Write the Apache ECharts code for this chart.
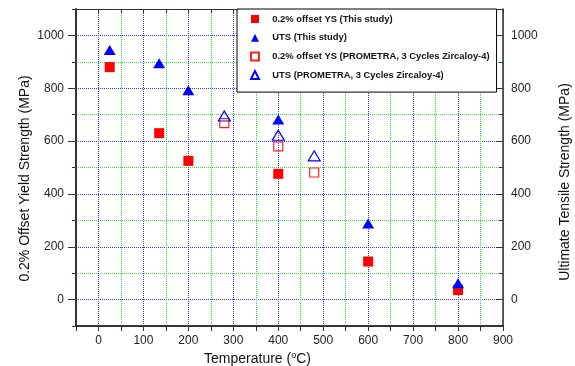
<!DOCTYPE html>
<html>
<head>
<meta charset="utf-8">
<script src="https://cdn.jsdelivr.net/npm/echarts@6/dist/echarts.min.js"></script>
<style>
html,body{margin:0;padding:0;background:#fff;}
#c{width:575px;height:366px;}
</style>
</head>
<body>
<div id="c"></div>
<script>
// Data (temperature in °C, strength in MPa)
const ysStudyT = [25, 135, 200, 400, 600, 800];
const ysStudyV = [880, 630, 525, 476, 144, 36];
const utsStudyT = [25, 135, 200, 400, 600, 800];
const utsStudyV = [945, 895, 792, 682, 288, 62];
const ysPromT = [280, 400, 480];
const ysPromV = [668, 580, 481];
const utsPromT = [280, 400, 480];
const utsPromV = [695, 622, 544];
const seriesNames = [
  '0.2% offset YS (This study)',
  'UTS (This study)',
  '0.2% offset YS (PROMETRA, 3 Cycles Zircaloy-4)',
  'UTS (PROMETRA, 3 Cycles Zircaloy-4)'
];
const yMajorTicks = [0, 200, 400, 600, 800, 1000];
const xTitle = 'Temperature';
const yLeftTitle = '0.2% Offset Yield Strength (MPa)';
const yRightTitle = 'Ultimate Tensile Strength (MPa)';

function pairs(xs, ys) { return xs.map((x, i) => [x, ys[i]]); }

const FONT = 'Liberation Sans, Arial, sans-serif';
const AXC = '#333';
const GREEN = '#2ee82e';
const BLUE = '#3535ff';

const chart = echarts.init(document.getElementById('c'), null, { renderer: 'canvas' });

const yBase = { type: 'value', min: -100, max: 1100, interval: 100 };
const xBase = { type: 'value', min: -50, max: 900, interval: 50 };

chart.setOption({
  animation: false,
  backgroundColor: '#fff',
  grid: { left: 76, right: 72, top: 9, bottom: 40, containLabel: false },
  xAxis: [
    Object.assign({}, xBase, {
      position: 'bottom',
      axisLine: { show: true, onZero: false, lineStyle: { color: AXC, width: 2 } },
      axisTick: { show: true, inside: false, length: 5, lineStyle: { color: AXC, width: 1 } },
      axisLabel: {
        show: true, margin: 9, color: '#222', fontFamily: FONT, fontSize: 12,
        formatter: v => (v >= 0 && v % 100 === 0) ? String(v) : ''
      },
      splitLine: { show: true, lineStyle: { color: [GREEN, BLUE], type: 'dotted', width: 1 } }
    }),
    Object.assign({}, xBase, {
      position: 'top',
      axisLine: { show: true, onZero: false, lineStyle: { color: AXC, width: 1 } },
      axisTick: { show: true, inside: true, length: 4, lineStyle: { color: AXC, width: 1 } },
      axisLabel: { show: false },
      splitLine: { show: false }
    })
  ],
  yAxis: [
    Object.assign({}, yBase, {
      position: 'left',
      axisLine: { show: true, onZero: false, lineStyle: { color: AXC, width: 2 } },
      axisTick: { show: true, inside: false, length: 4, lineStyle: { color: AXC, width: 1 } },
      axisLabel: {
        show: true, margin: 12, color: '#222', fontFamily: FONT, fontSize: 12,
        formatter: v => (yMajorTicks.indexOf(v) >= 0) ? String(v) : ''
      },
      splitLine: { show: true, showMaxLine: false, lineStyle: { color: [GREEN, BLUE], type: 'dotted', width: 1 } }
    }),
    Object.assign({}, yBase, {
      position: 'right',
      axisLine: { show: true, onZero: false, lineStyle: { color: AXC, width: 1.5 } },
      axisTick: { show: true, inside: true, length: 4, lineStyle: { color: AXC, width: 1 } },
      axisLabel: {
        show: true, margin: 8, color: '#222', fontFamily: FONT, fontSize: 12,
        formatter: v => (yMajorTicks.indexOf(v) >= 0) ? String(v) : ''
      },
      splitLine: { show: false }
    }),
    Object.assign({}, yBase, {
      position: 'left',
      axisLine: { show: false, onZero: false },
      axisTick: { show: true, inside: false, length: 8, customValues: yMajorTicks, lineStyle: { color: AXC, width: 1 } },
      axisLabel: { show: false },
      splitLine: { show: false }
    }),
    Object.assign({}, yBase, {
      position: 'right',
      axisLine: { show: false, onZero: false },
      axisTick: { show: true, inside: true, length: 7, customValues: yMajorTicks, lineStyle: { color: AXC, width: 1 } },
      axisLabel: { show: false },
      splitLine: { show: false }
    })
  ],
  legend: {
    orient: 'vertical',
    left: 237, top: 9,
    padding: [5, 7, 12, 13],
    itemWidth: 8, itemHeight: 8, itemGap: 8.7,
    borderColor: '#000', borderWidth: 1, backgroundColor: '#fff',
    textStyle: { fontFamily: FONT, fontSize: 9.4, fontWeight: 'bold', color: '#111', lineHeight: 10, padding: [0, 0, 0, 8.3] },
    data: seriesNames
  },
  series: [
    {
      name: seriesNames[0], type: 'scatter', xAxisIndex: 0, yAxisIndex: 0,
      symbol: 'rect', symbolSize: 10,
      itemStyle: { color: '#ff0000', opacity: 1 },
      data: pairs(ysStudyT, ysStudyV), z: 3
    },
    {
      name: seriesNames[1], type: 'scatter', xAxisIndex: 0, yAxisIndex: 1,
      symbol: 'triangle', symbolSize: [12, 10],
      itemStyle: { color: '#0000ff', opacity: 1 },
      data: pairs(utsStudyT, utsStudyV), z: 4
    },
    {
      name: seriesNames[2], type: 'scatter', xAxisIndex: 0, yAxisIndex: 0,
      symbol: 'rect', symbolSize: 9,
      itemStyle: { color: 'rgba(255,255,255,0)', borderColor: '#ff2020', borderWidth: 1.2, opacity: 1 },
      data: pairs(ysPromT, ysPromV), z: 3
    },
    {
      name: seriesNames[3], type: 'scatter', xAxisIndex: 0, yAxisIndex: 1,
      symbol: 'triangle', symbolSize: [12, 10],
      itemStyle: { color: 'rgba(255,255,255,0)', borderColor: '#0000ff', borderWidth: 1.2, opacity: 1 },
      data: pairs(utsPromT, utsPromV), z: 4
    }
  ],
  graphic: [
    {
      type: 'text', x: 257.5, y: 359,
      style: {
        text: xTitle + ' ({sup|o}C)',
        align: 'center', verticalAlign: 'middle',
        font: '14px ' + FONT, fill: '#111',
        rich: { sup: { fontSize: 9, fontFamily: FONT, verticalAlign: 'top', padding: [0, 0, 6, 0] } }
      }
    },
    {
      type: 'text', x: 25, y: 178.5, rotation: Math.PI / 2,
      style: { text: yLeftTitle, align: 'center', verticalAlign: 'middle', font: '14px ' + FONT, fill: '#111' }
    },
    {
      type: 'text', x: 565, y: 182, rotation: Math.PI / 2,
      style: { text: yRightTitle, align: 'center', verticalAlign: 'middle', font: '14px ' + FONT, fill: '#111' }
    }
  ]
});
</script>
</body>
</html>
